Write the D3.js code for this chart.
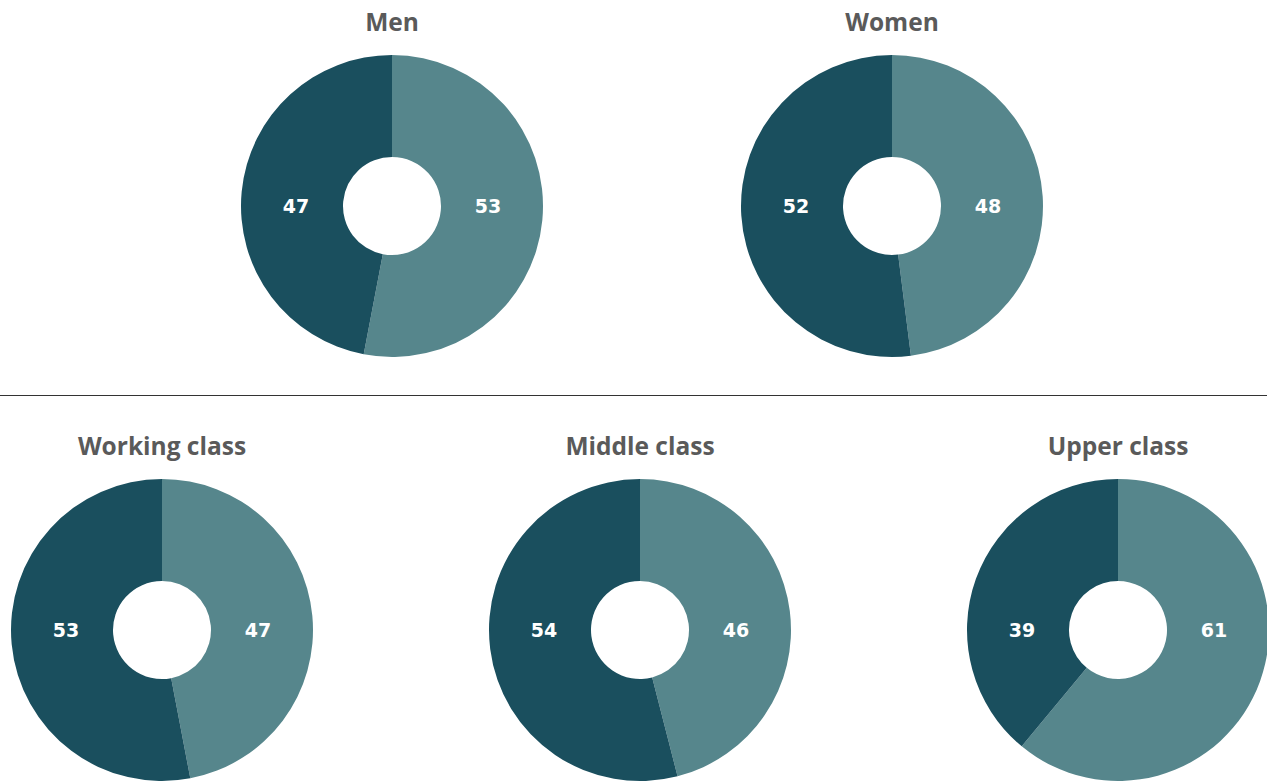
<html>
<head>
  <meta charset="UTF-8">
  <title>Donuts</title>
  <script src="https://d3js.org/d3.v7.min.js"></script>
  <style>
    body { margin: 0; background: #fff; }
    .title { fill: #5a5a5a; font-size: 24.5px; font-weight: 700; font-family: "Open Sans", sans-serif; }
    .label { fill: #fff; font-size: 19px; font-weight: 700; font-family: "DejaVu Sans", sans-serif; }
  </style>
</head>
<body>
<svg width="1267" height="782"></svg>
<script>
// data
var groups = ["Men", "Women", "Working class", "Middle class", "Upper class"];
var lightValues = [53, 48, 47, 46, 61];   // right slice, starts at 12 o'clock
var darkValues = [47, 52, 53, 54, 39];    // left slice

// layout
var centers = [[392, 206], [892, 206], [162, 630], [640, 630], [1118, 630]];
var colors = ["#56868c", "#1a4f5e"];
var outerR = 151, innerR = 49;

var svg = d3.select("svg");

svg.append("line")
  .attr("x1", 0).attr("x2", 1267)
  .attr("y1", 395.5).attr("y2", 395.5)
  .attr("stroke", "#333")
  .attr("stroke-width", 1.2);

var pie = d3.pie().sort(null).value(d => d);
var arc = d3.arc().innerRadius(innerR).outerRadius(outerR);

groups.forEach(function(name, i) {
  var c = centers[i];
  var g = svg.append("g").attr("transform", "translate(" + c[0] + "," + c[1] + ")");
  var slices = pie([lightValues[i], darkValues[i]]);

  g.selectAll("path")
    .data(slices)
    .enter()
    .append("path")
    .attr("d", arc)
    .attr("fill", (d, j) => colors[j]);

  g.selectAll(".label")
    .data(slices)
    .enter()
    .append("text")
    .attr("class", "label")
    .attr("x", (d, j) => j == 0 ? 96 : -96)
    .attr("y", -0.5)
    .attr("text-anchor", "middle")
    .attr("dominant-baseline", "central")
    .text(d => d.data);

  g.append("text")
    .attr("class", "title")
    .attr("x", 0)
    .attr("y", -outerR - 24)
    .attr("text-anchor", "middle")
    .text(name);
});
</script>
</body>
</html>
